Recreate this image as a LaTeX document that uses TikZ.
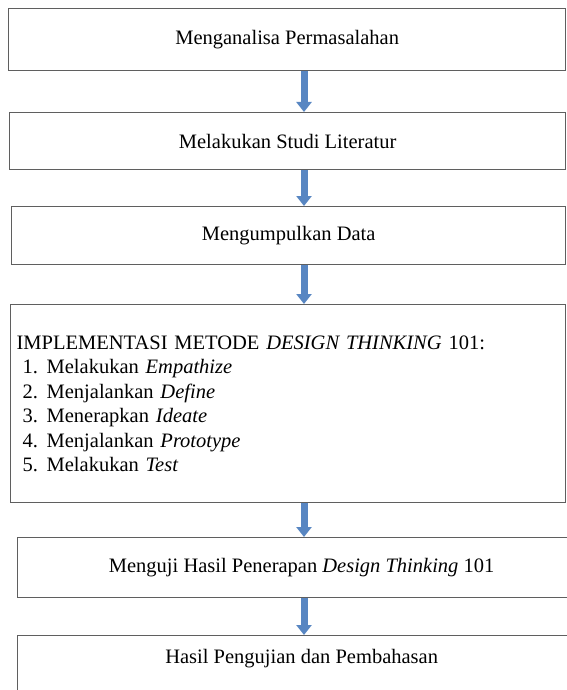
\documentclass[tikz,border=0pt]{standalone}
\usepackage{fontspec}
\setmainfont{Liberation Serif}
\usepackage{xcolor}
\usepackage{tikz}
\usetikzlibrary{arrows.meta, positioning, calc}
\definecolor{flowblue}{RGB}{88,134,194}
\definecolor{boxgray}{RGB}{95,95,95}
\newcommand{\dtstep}[2]{\hspace*{6pt}\makebox[24pt][l]{#1.}#2}

\begin{document}
\begin{tikzpicture}[
    x=1pt, y=-1pt,
    every node/.style={font=\fontsize{20.5}{24.5}\selectfont},
    stage/.style={rectangle, draw=boxgray, line width=1.3pt, anchor=north west, align=center, inner sep=0pt},
    arrow/.style={-{Triangle[width=15pt,length=10pt]}, line width=7pt, draw=flowblue}
]

\useasboundingbox[fill=white] (0,0) rectangle (566,690);

\coordinate (ax) at (304,0);

\node[stage, minimum width=557pt, minimum height=62pt] (analisa) at (8,8) {Menganalisa Permasalahan};
\node[stage, minimum width=556pt, minimum height=57pt] (studi) at (9,112) {Melakukan Studi Literatur};
\node[stage, minimum width=554pt, minimum height=58pt] (data) at (11,206) {Mengumpulkan Data};
\node[stage, minimum width=555pt, minimum height=198pt, text width=543pt, align=left, inner xsep=6pt] (metode) at (10,304) {%
    IMPLEMENTASI METODE \textit{DESIGN THINKING} 101:\\
    \dtstep{1}{Melakukan \textit{Empathize}}\\
    \dtstep{2}{Menjalankan \textit{Define}}\\
    \dtstep{3}{Menerapkan \textit{Ideate}}\\
    \dtstep{4}{Menjalankan \textit{Prototype}}\\
    \dtstep{5}{Melakukan \textit{Test}}};
\node[stage, minimum width=568pt, minimum height=60pt] (uji) at (17,537) {Menguji Hasil Penerapan \textit{Design Thinking} 101};
\node[stage, minimum width=568pt, inner ysep=14pt, text depth=60pt] (hasil) at (17,635) {Hasil Pengujian dan Pembahasan};

\draw[arrow] (analisa.south -| ax) -- (studi.north -| ax);
\draw[arrow] (studi.south -| ax) -- (data.north -| ax);
\draw[arrow] (data.south -| ax) -- (metode.north -| ax);
\draw[arrow] (metode.south -| ax) -- (uji.north -| ax);
\draw[arrow] (uji.south -| ax) -- (hasil.north -| ax);

\end{tikzpicture}
\end{document}
